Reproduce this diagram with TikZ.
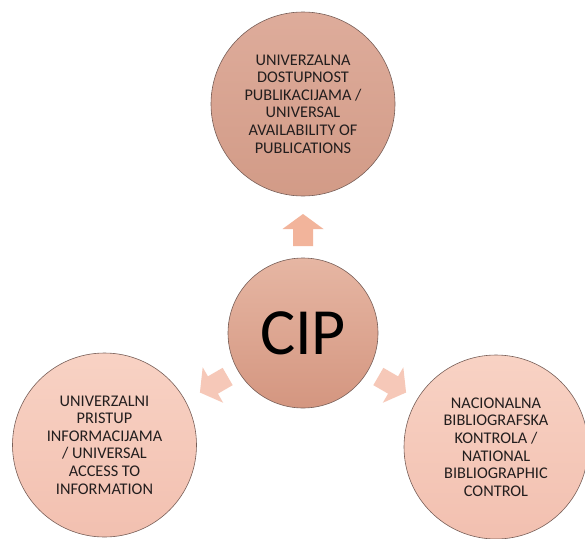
\documentclass[tikz,border=0pt]{standalone}
\usepackage{fontspec}
\setmainfont{Carlito}
\definecolor{txt}{RGB}{35,30,30}
\definecolor{rim}{RGB}{120,95,88}
\definecolor{topA}{RGB}{222,172,155}
\definecolor{topB}{RGB}{210,155,135}
\definecolor{cipA}{RGB}{230,182,163}
\definecolor{cipB}{RGB}{212,150,128}
\definecolor{lowA}{RGB}{248,210,196}
\definecolor{lowB}{RGB}{242,192,176}
\definecolor{arrUpA}{RGB}{242,180,155}
\definecolor{arrLo}{RGB}{246,200,184}
\tikzset{
  circ/.style={circle, draw=rim, line width=0.6pt, inner sep=0pt, align=center,
    text=txt, font=\fontsize{16.3}{17.6}\selectfont},
  bigcirc/.style={circ, minimum size=184pt, top color=lowA, bottom color=lowB},
  topcirc/.style={circ, minimum size=184pt, top color=topA, bottom color=topB},
  cipcirc/.style={circ, minimum size=150pt, top color=cipA, bottom color=cipB,
    text=black, font=\fontsize{66}{70}\selectfont},
}
\begin{document}
\begin{tikzpicture}[x=1pt,y=1pt]
\useasboundingbox (0,0) rectangle (585,-538);
\fill[white] (0,0) rectangle (585,-538);
\node[topcirc] (pub) at (303,-104) {UNIVERZALNA\\DOSTUPNOST\\PUBLIKACIJAMA /\\UNIVERSAL\\AVAILABILITY OF\\PUBLICATIONS};
\node[cipcirc] (cip) at (303,-333) {CIP};
\node[bigcirc] (acc) at (104.5,-445) {UNIVERZALNI\\PRISTUP\\INFORMACIJAMA\\/ UNIVERSAL\\ACCESS TO\\INFORMATION};
\node[bigcirc] (nbc) at (496,-447) {NACIONALNA\\BIBLIOGRAFSKA\\KONTROLA /\\NATIONAL\\BIBLIOGRAPHIC\\CONTROL};
% block arrows
\foreach \ang/\col in {90/arrUpA, 210/arrLo, 330/arrLo}{
  \fill[\col, shift={(cip.center)}, rotate=\ang]
    (87,-10) -- (104,-10) -- (104,-20.5) -- (119,0) -- (104,20.5) -- (104,10) -- (87,10) -- cycle;
}
\end{tikzpicture}
\end{document}
